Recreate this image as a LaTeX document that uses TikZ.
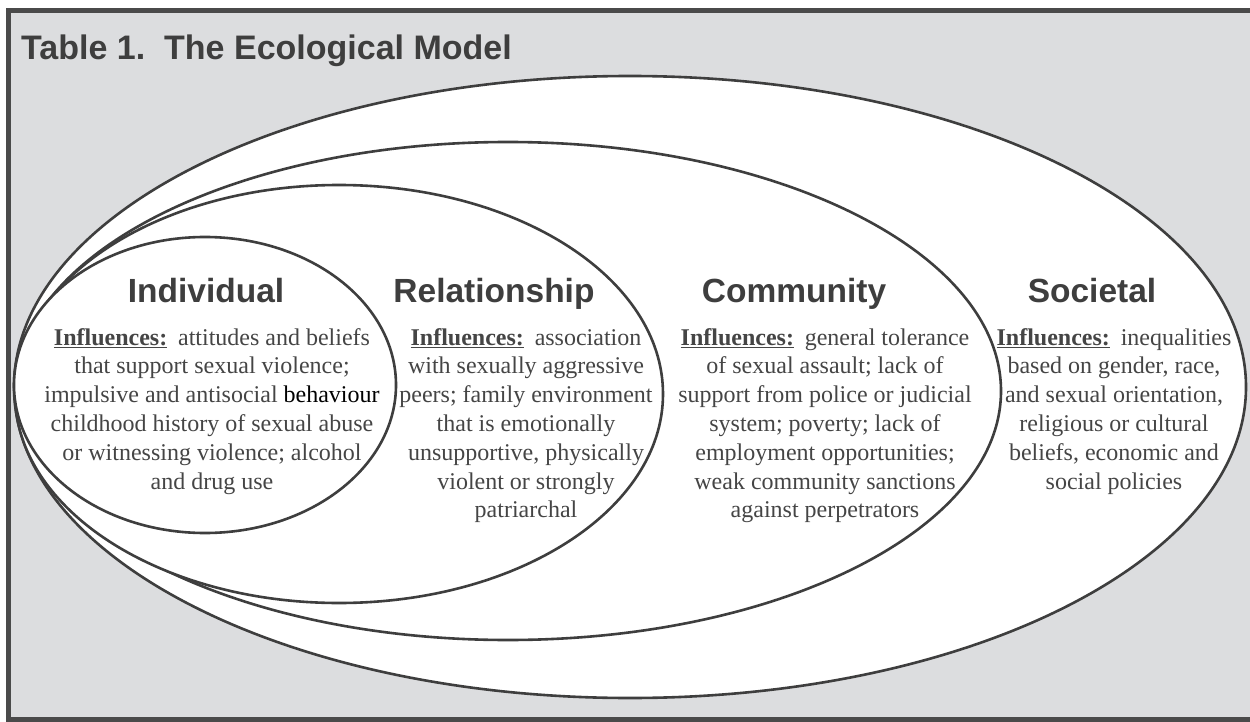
\documentclass[tikz,border=0pt]{standalone}
\usepackage{fontspec}
\setmainfont{Liberation Serif}
\newfontfamily\headfont{Liberation Sans}
\usetikzlibrary{shapes.geometric}
\definecolor{framegray}{HTML}{4A4A4A}
\definecolor{bggray}{HTML}{DCDDDF}
\definecolor{inkgray}{HTML}{3E3E3E}
\definecolor{textgray}{HTML}{454545}
\newcommand{\influ}{\underline{\textbf{Influences:}}\hspace{0.45em}}
\tikzset{
        % Nested spheres of the model
        sphere/.style={ellipse, draw=inkgray, line width=2.6pt, fill=white, inner sep=0pt},
        % Sphere names
        sphere_title/.style={anchor=base, inner sep=0pt, text=inkgray, font=\headfont\bfseries\fontsize{33.5}{40}\selectfont},
        % Sphere influences
        sphere_text/.style={anchor=north, align=center, inner sep=0pt, text=textgray, font=\fontsize{24}{28.8}\selectfont}
}

\begin{document}
\begin{tikzpicture}[x=1pt, y=-1pt]
    \useasboundingbox (0,0) rectangle (1250,722);
    \fill[white] (0,0) rectangle (1250,722);
    \fill[bggray] (8.5,10.5) rectangle (1250,719.5);
    \draw[framegray, line width=5pt] (1250,10.5) -- (8.5,10.5) -- (8.5,719.5) -- (1250,719.5);
    \node[anchor=base west, inner sep=0pt, text=inkgray, font=\headfont\bfseries\fontsize{34}{40}\selectfont] (title) at (21,60) {Table 1.\ \ The Ecological Model};

    \node[sphere, minimum width=1232pt, minimum height=622pt] (societal) at (630,387) {};
    \node[sphere, minimum width=986pt, minimum height=498pt] (community) at (508,391) {};
    \node[sphere, minimum width=648pt, minimum height=418pt] (relationship) at (339,394) {};
    \node[sphere, minimum width=382pt, minimum height=296pt] (individual) at (205,385) {};

    \node[sphere_title] (individual_head) at (206,302) {Individual};
    \node[sphere_title] (relationship_head) at (494,302) {Relationship};
    \node[sphere_title] (community_head) at (794,302) {Community};
    \node[sphere_title] (societal_head) at (1092,302) {Societal};

    \node[sphere_text] (individual_text) at (212,328) {\influ attitudes and beliefs\\
        that support sexual violence;\\
        impulsive and antisocial {\color{black}behaviour}\\
        childhood history of sexual abuse\\
        or witnessing violence; alcohol\\
        and drug use};
    \node[sphere_text] (relationship_text) at (526,328) {\influ association\\
        with sexually aggressive\\
        peers; family environment\\
        that is emotionally\\
        unsupportive, physically\\
        violent or strongly\\
        patriarchal};
    \node[sphere_text] (community_text) at (825,328) {\influ general tolerance\\
        of sexual assault; lack of\\
        support from police or judicial\\
        system; poverty; lack of\\
        employment opportunities;\\
        weak community sanctions\\
        against perpetrators};
    \node[sphere_text] (societal_text) at (1114,328) {\influ inequalities\\
        based on gender, race,\\
        and sexual orientation,\\
        religious or cultural\\
        beliefs, economic and\\
        social policies};
\end{tikzpicture}
\end{document}
